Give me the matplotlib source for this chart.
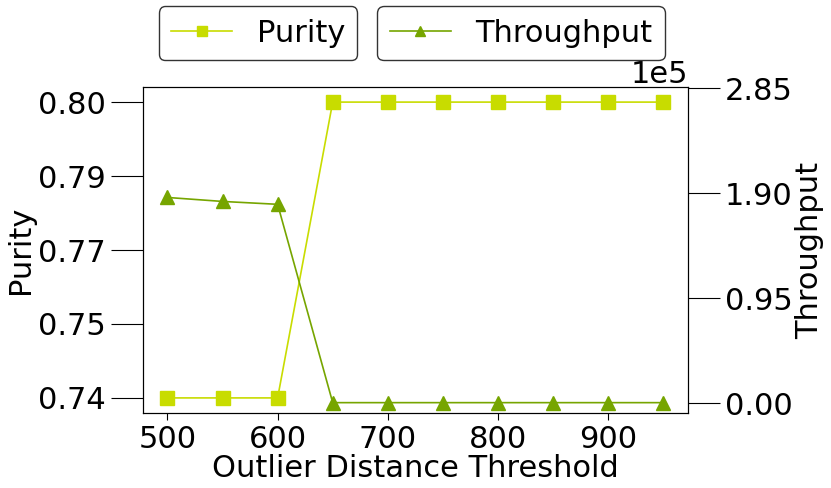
import numpy as np
import matplotlib
matplotlib.use("Agg")
import matplotlib.pyplot as plt

# data
thresholds = [500, 550, 600, 650, 700, 750, 800, 850, 900, 950]
purity = [0.74, 0.74, 0.74, 0.80, 0.80, 0.80, 0.80, 0.80, 0.80, 0.80]
throughput = [186300, 182700, 180100, 600, 600, 600, 600, 600, 600, 600]

purity_ticklabels = ['0.74', '0.75', '0.77', '0.79', '0.80']

purity_color = '#c8dc00'
throughput_color = '#76a500'

plt.rcParams['font.family'] = ['DejaVu Sans']
plt.rcParams['font.size'] = 22

fig = plt.figure(figsize=(8.31, 4.88), dpi=100)
ax1 = fig.add_axes([0.1717, 0.1543, 0.6562, 0.6668])
ax2 = ax1.twinx()

l1, = ax1.plot(thresholds, purity, marker='s', markersize=10, color=purity_color,
               linewidth=1.2, label='Purity')
l2, = ax2.plot(thresholds, throughput, marker='^', markersize=10, color=throughput_color,
               linewidth=1.2, label='Throughput')

ax1.set_yticks(np.linspace(min(purity), max(purity), 5))
ax1.set_yticklabels(purity_ticklabels)
ax1.set_xticks([500, 600, 700, 800, 900])

top = 1.5 * 190000
ax2.set_ylim(-8500, 286000)
ax2.set_yticks(np.linspace(0, top, 4))
ax2.ticklabel_format(axis='y', style='sci', scilimits=(0, 0))

ax1.set_xlabel('Outlier Distance Threshold', labelpad=0)
ax1.set_ylabel('Purity', labelpad=2)
ax2.set_ylabel('Throughput', labelpad=2)

ax1.tick_params(axis='y', length=23, width=0.8)
ax2.tick_params(axis='y', length=23, width=0.8)
ax1.tick_params(axis='x', length=5, width=0.8)

leg1 = fig.legend(handles=[l1], loc='center', bbox_to_anchor=(0.3105, 0.932),
                  markerscale=0.7, edgecolor='#333333', framealpha=1)
leg2 = fig.legend(handles=[l2], loc='center', bbox_to_anchor=(0.627, 0.932),
                  markerscale=0.7, edgecolor='#333333', framealpha=1)

fig.savefig('out.png', dpi=100)
